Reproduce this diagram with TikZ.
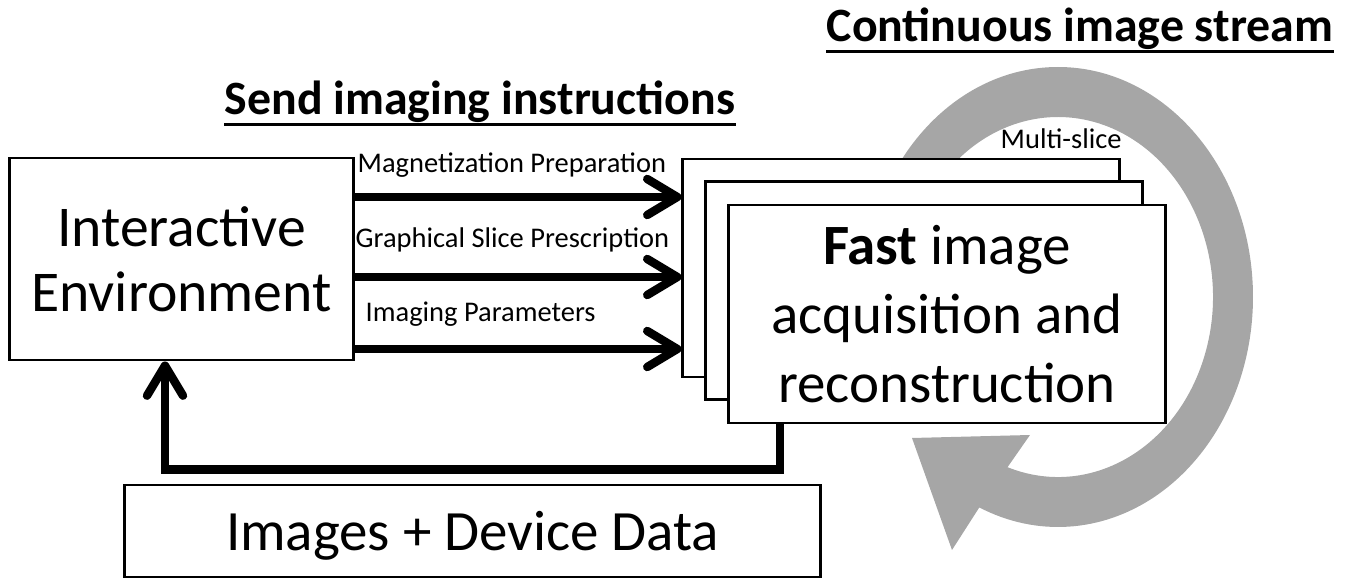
\documentclass[tikz,border=0pt]{standalone}
\usepackage{fontspec}
\setmainfont{Carlito}
\usetikzlibrary{arrows.meta,calc}

\begin{document}
\begin{tikzpicture}[x=0.01cm,y=-0.01cm,
		box/.style={draw=black,line width=0.8pt,fill=white,inner sep=0pt,text depth=0pt,align=center},
		bigtext/.style={font=\fontsize{16.2}{19.6}\selectfont},
		flow/.style={line width=2.4pt,-{Straight Barb[length=0.3cm,width=0.36cm,round]}},
		lbl/.style={font=\fontsize{8.1}{10}\selectfont,anchor=base west,inner sep=0pt},
		heading/.style={font=\fontsize{13.6}{16}\selectfont\bfseries,anchor=base west,inner sep=0pt},
		ring/.style={fill=black!35}]
	\useasboundingbox (0,0) rectangle (1356,579);

	% circular arrow behind the slices
	\coordinate (rc) at (1058,297);
	\fill[ring] (rc) ++(180:195 and 230)
		arc[start angle=180,end angle=473.8,x radius=195,y radius=230]
		-- (952,550) -- (912,438) -- (1030,435)
		-- ($(rc)+(469:155 and 180)$)
		arc[start angle=469,end angle=180,x radius=155,y radius=180] -- cycle;
	\node[lbl] (multi) at (1000,149) {Multi-slice};

	% boxes
	\node[box,minimum width=3.43cm,minimum height=2.02cm,font=\fontsize{16.4}{18.5}\selectfont] (env) at (181.5,259) {Interactive\\Environment};
	\node[box,minimum width=4.36cm,minimum height=2.18cm] (slice1) at (901,268) {};
	\node[box,minimum width=4.36cm,minimum height=2.18cm] (slice2) at (924,290.5) {};
	\node[box,minimum width=4.36cm,minimum height=2.18cm,bigtext] (front) at (947,314) {\textbf{Fast} image\\acquisition and\\reconstruction};
	\node[box,minimum width=6.95cm,minimum height=0.92cm,bigtext] (imgs) at (472.5,531) {Images + Device Data};

	% headings
	\node[heading] (send) at (224,115) {Send imaging instructions};
	\draw[line width=0.8pt] ([yshift=-2.8pt]send.base west) -- ([yshift=-2.8pt]send.base east);
	\node[heading] (stream) at (826,42) {Continuous image stream};
	\draw[line width=0.8pt] ([yshift=-2.8pt]stream.base west) -- ([yshift=-2.8pt]stream.base east);

	% instructions
	\node[lbl] (prep) at (357,173) {Magnetization Preparation};
	\node[lbl] (presc) at (355,248) {Graphical Slice Prescription};
	\node[lbl] (param) at (365,322) {Imaging Parameters};
	\draw[flow] (env.east |- 0,197) -- (slice1.west |- 0,197);
	\draw[flow] (env.east |- 0,277) -- (slice1.west |- 0,277);
	\draw[flow] (env.east |- 0,349) -- (slice1.west |- 0,349);

	% feedback
	\draw[flow] (front.south -| 780,0) -- ++(0,45) -| (env.south -| 165,0);
\end{tikzpicture}
\end{document}
